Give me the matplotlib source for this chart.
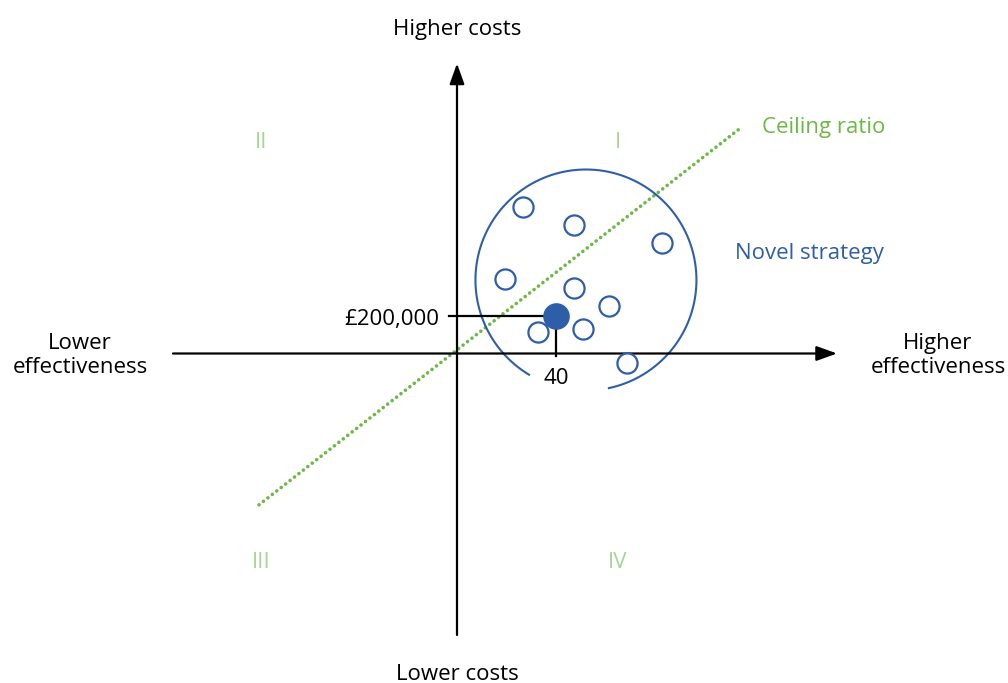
import numpy as np
import matplotlib.pyplot as plt

# cost-effectiveness plane: effectiveness (units) vs incremental cost (GBP)
sim_effect = [26.8, 47.3, 82.7, 19.5, 47.3, 61.3, 32.8, 50.8, 68.6]
sim_cost = [780000, 685000, 588000, 397000, 348000, 255000, 113000, 131000, -49000]

mean_effect = 40
mean_cost = 200000

ceiling_effect = [-80, 114]
ceiling_cost = [-807000, 1197000]

quadrant_labels = ['I', 'II', 'III', 'IV']
quadrant_effect = [65, -79, -79, 65]
quadrant_cost = [1125000, 1125000, -1115000, -1115000]

BLACK = '#000000'
BLUE = '#2e5ea8'
GREEN = '#6cb845'
LIGHT_GREEN = '#a8d597'
FS = 16

plt.rcParams['font.family'] = ['Open Sans', 'DejaVu Sans']

def main():
    fig = plt.figure(figsize=(10.08, 6.83), dpi=100)
    ax = fig.add_axes([0, 0, 1, 1])
    # origin sits at pixel (457, 353.5); 40 units = 99 px, 200,000 = 37.5 px
    sx = 99 / 40
    sy = 37.5 / 200000
    ax.set_xlim(-457 / sx, (1008 - 457) / sx)
    ax.set_ylim(-(683 - 353.5) / sy, 353.5 / sy)
    ax.axis('off')

    # axes of the plane
    arrow = dict(arrowstyle='-|>,head_length=1.25,head_width=0.45', lw=1.6,
                 color=BLACK, shrinkA=0, shrinkB=0, mutation_scale=10)
    ax.annotate('', xy=(0, 290 / sy), xytext=(0, -281.5 / sy), arrowprops=arrow)
    ax.annotate('', xy=(380 / sx, 0), xytext=(-284 / sx, 0), arrowprops=arrow)

    # ceiling ratio
    ax.plot(ceiling_effect, ceiling_cost, color=GREEN, lw=2.6,
            linestyle=(0, (0.01, 1.55)), dash_capstyle='round')

    # open circle round the simulations (gap at the bottom)
    t = np.radians(np.linspace(-78, 239, 300))
    r = 110.5
    ax.plot(52.1 + r * np.cos(t) / sx, 392000 + r * np.sin(t) / sy,
            color=BLUE, lw=1.5)

    ax.scatter(sim_effect, sim_cost, s=210, facecolors='white',
               edgecolors=BLUE, linewidths=1.6, zorder=4)

    # guide lines to mean point
    ax.plot([-3.2, mean_effect], [mean_cost, mean_cost], color=BLACK, lw=1.6, zorder=3)
    ax.plot([mean_effect, mean_effect], [mean_cost, -12000], color=BLACK, lw=1.6, zorder=3)
    ax.scatter([mean_effect], [mean_cost], s=330, color=BLUE, zorder=5)

    ax.text(-7, mean_cost - 3 / sy, '£{:,}'.format(mean_cost), ha='right', va='center',
            fontsize=FS, color=BLACK)
    ax.text(mean_effect, -25 / sy, str(mean_effect), ha='center', va='center',
            fontsize=FS, color=BLACK)

    # axis captions
    ax.text(0, 324 / sy, 'Higher costs', ha='center', va='center', fontsize=FS)
    ax.text(0, -326 / sy, 'Lower costs', ha='center', va='baseline', fontsize=FS)
    ax.text(-377 / sx, -2 / sy, 'Lower\neffectiveness', ha='center', va='center',
            fontsize=FS, linespacing=1.22)
    ax.text(481 / sx, -2 / sy, 'Higher\neffectiveness', ha='center', va='center',
            fontsize=FS, linespacing=1.22)

    ax.text(305 / sx, 226.5 / sy, 'Ceiling ratio', ha='left', va='center',
            fontsize=FS, color=GREEN)
    ax.text(278 / sx, 100.5 / sy, 'Novel strategy', ha='left', va='center',
            fontsize=FS, color=BLUE)

    for lab, ex, cy in zip(quadrant_labels, quadrant_effect, quadrant_cost):
        ax.text(ex, cy, lab, ha='center', va='center', fontsize=FS, color=LIGHT_GREEN)

    fig.savefig('out.png', dpi=100)

if __name__ == "__main__":
    main()
